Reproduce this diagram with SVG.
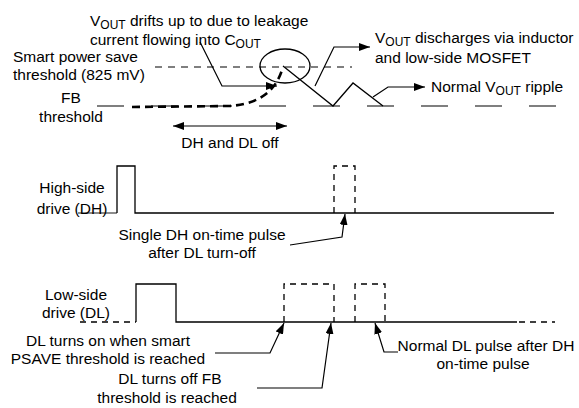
<svg xmlns="http://www.w3.org/2000/svg" width="579" height="408" viewBox="0 0 579 408">
<defs>
<marker id="ah" markerUnits="userSpaceOnUse" markerWidth="11" markerHeight="8" refX="11" refY="4" orient="auto-start-reverse">
<path d="M0,0 L11,4 L0,8 z" fill="#000"/>
</marker>
<style>
text{font-family:"Liberation Sans",Arial,Helvetica,sans-serif;font-size:15.5px;fill:#000}
.sub{font-size:12px}
.mid{text-anchor:middle}
.sig{fill:none;stroke:#000;stroke-width:1.3}
.gdash{fill:none;stroke:#555;stroke-width:1.3;stroke-dasharray:7 6}
.fbdash{fill:none;stroke:#555;stroke-width:1.3;stroke-dasharray:27 27}
.pdash{fill:none;stroke:#000;stroke-width:1.3;stroke-dasharray:6 5}
.thick{fill:none;stroke:#000;stroke-width:2.6;stroke-dasharray:8 5}
.lead{fill:none;stroke:#000;stroke-width:1.2}
</style>
</defs>

<g id="waveforms">
<g id="vout">
<path class="gdash" d="M155,67 H352"/>
<path class="fbdash" d="M97,106 H560"/>
<path class="thick" d="M132,107 L230,106 C255,104 275,95 283,67"/>
<ellipse class="sig" cx="285" cy="66" rx="25" ry="17"/>
<path class="sig" d="M283,66 L333,106 L353,83 L383,106"/>
</g>
<g id="dh">
<path fill="none" stroke="#666" stroke-width="1.6" d="M78,213 H117"/>
<path class="sig" d="M117,213 V166 H135 V213 H554"/>
<path class="pdash" d="M334,213 V166 H355 V213"/>
</g>
<g id="dl">
<path class="pdash" d="M80,322 H136"/>
<path class="sig" d="M136,322 V284 H176 V322 H517"/>
<path class="pdash" d="M519,322 H555"/>
<path class="pdash" d="M284,322 V284 H334 V322"/>
<path class="pdash" d="M355,322 V284 H385 V322"/>
</g>
</g>

<g id="connectors">
<path class="lead" marker-end="url(#ah)" d="M200,42 L222,86 H277"/>
<path class="lead" marker-end="url(#ah)" d="M315,86 L334,47 H370"/>
<path class="lead" marker-end="url(#ah)" d="M373,97 L388,87 H425"/>
<path class="lead" marker-start="url(#ah)" marker-end="url(#ah)" d="M173,126 H287"/>
<path class="lead" marker-end="url(#ah)" d="M290,245 L342,237 L345,214"/>
<path class="lead" marker-end="url(#ah)" d="M215,353 H270 L284,323"/>
<path class="lead" marker-end="url(#ah)" d="M257,388 H322 L331,323"/>
<path class="lead" marker-end="url(#ah)" d="M398,352 H384 L375,323"/>
</g>

<g id="labels">
<g id="lbl-drift">
<text x="90" y="26">V<tspan class="sub" dy="2.5">OUT</tspan><tspan dy="-2.5"> drifts up to due to leakage</tspan></text>
<text x="90" y="45">current flowing into C<tspan class="sub" dy="2.5">OUT</tspan></text>
</g>
<g id="lbl-smart">
<text x="13" y="62">Smart power save</text>
<text x="13" y="80">threshold (825 mV)</text>
</g>
<g id="lbl-fb">
<text class="mid" x="71" y="103">FB</text>
<text class="mid" x="71" y="122">threshold</text>
</g>
<g id="lbl-off">
<text class="mid" x="230" y="148">DH and DL off</text>
</g>
<g id="lbl-discharge">
<text x="375" y="43">V<tspan class="sub" dy="2.5">OUT</tspan><tspan dy="-2.5"> discharges via inductor</tspan></text>
<text x="375" y="63">and low-side MOSFET</text>
</g>
<g id="lbl-ripple">
<text x="431" y="92">Normal V<tspan class="sub" dy="2.5">OUT</tspan><tspan dy="-2.5"> ripple</tspan></text>
</g>
<g id="lbl-dh">
<text class="mid" x="72" y="193">High-side</text>
<text class="mid" x="72" y="214">drive (DH)</text>
</g>
<g id="lbl-single">
<text class="mid" x="202" y="240">Single DH on-time pulse</text>
<text class="mid" x="202" y="258">after DL turn-off</text>
</g>
<g id="lbl-dl">
<text class="mid" x="76" y="300">Low-side</text>
<text class="mid" x="76" y="318">drive (DL)</text>
</g>
<g id="lbl-on">
<text class="mid" x="108" y="346">DL turns on when smart</text>
<text class="mid" x="108" y="364">PSAVE threshold is reached</text>
</g>
<g id="lbl-turnoff">
<text class="mid" x="170" y="384">DL turns off FB</text>
<text class="mid" x="167" y="403">threshold is reached</text>
</g>
<g id="lbl-normal">
<text class="mid" x="486" y="351">Normal DL pulse after DH</text>
<text class="mid" x="483" y="369">on-time pulse</text>
</g>
</g>
</svg>
